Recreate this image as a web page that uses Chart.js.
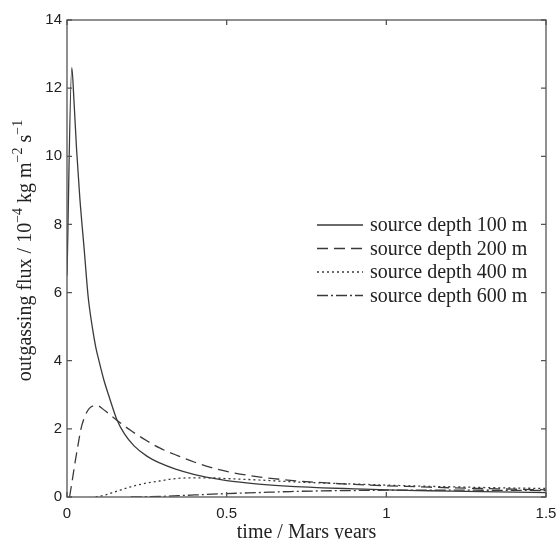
<!DOCTYPE html>
<html>
<head>
<meta charset="utf-8">
<script src="https://cdn.jsdelivr.net/npm/chart.js@4.4.1/dist/chart.umd.min.js"></script>
<style>
  body { margin: 0; background: #fff; }
  canvas { display: block; }
</style>
</head>
<body>
<canvas id="fluxChart" width="559" height="539"></canvas>
<script>
// values (time in Mars years, flux in 1e-4 kg m^-2 s^-1)
const labels = ['source depth 100 m', 'source depth 200 m', 'source depth 400 m', 'source depth 600 m'];

const t100 = [0, 0.015, 0.022, 0.03, 0.04, 0.054, 0.066, 0.079, 0.09, 0.1, 0.115, 0.13, 0.155, 0.18, 0.21, 0.25, 0.29, 0.34, 0.4, 0.45, 0.5, 0.6, 0.7, 0.8, 0.9, 1.0, 1.1, 1.2, 1.35, 1.5];
const flux100 = [6.5, 12.6, 11.6, 10.2, 8.8, 7.25, 5.9, 5.0, 4.4, 4.0, 3.45, 3.0, 2.3, 1.85, 1.5, 1.2, 1.0, 0.82, 0.66, 0.56, 0.48, 0.38, 0.31, 0.27, 0.24, 0.21, 0.19, 0.17, 0.15, 0.13];

const t200 = [0.008, 0.015, 0.025, 0.035, 0.043, 0.055, 0.07, 0.085, 0.095, 0.11, 0.13, 0.155, 0.2, 0.25, 0.29, 0.35, 0.4, 0.45, 0.5, 0.6, 0.7, 0.8, 0.9, 1.0, 1.1, 1.2, 1.35, 1.5];
const flux200 = [0, 0.4, 1.0, 1.55, 1.97, 2.35, 2.6, 2.68, 2.68, 2.6, 2.45, 2.26, 1.95, 1.65, 1.44, 1.2, 1.02, 0.87, 0.75, 0.59, 0.49, 0.42, 0.37, 0.33, 0.3, 0.27, 0.24, 0.21];

const t400 = [0.09, 0.12, 0.15, 0.2, 0.25, 0.29, 0.33, 0.38, 0.45, 0.5, 0.6, 0.7, 0.8, 0.9, 1.0, 1.1, 1.2, 1.35, 1.5];
const flux400 = [0, 0.06, 0.15, 0.3, 0.41, 0.47, 0.53, 0.56, 0.56, 0.54, 0.5, 0.45, 0.41, 0.38, 0.35, 0.32, 0.3, 0.27, 0.25];

const t600 = [0.2, 0.3, 0.35, 0.4, 0.5, 0.6, 0.7, 0.8, 0.9, 1.0, 1.2, 1.5];
const flux600 = [0, 0.02, 0.04, 0.06, 0.1, 0.13, 0.16, 0.18, 0.19, 0.2, 0.2, 0.19];

const xTicks = [0, 0.5, 1, 1.5];
const yTicks = [0, 2, 4, 6, 8, 10, 12, 14];

const ink = '#3a3a3a';
const serif = '"Liberation Serif", "Times New Roman", serif';

function toPoints(ts, ys) {
	return ts.map((t, i) => ({x: t, y: ys[i]}));
}

const dashes = [[], [11, 6], [2, 3], [11, 3, 2, 3]];
const series = [[t100, flux100], [t200, flux200], [t400, flux400], [t600, flux600]];

const datasets = series.map((s, i) => ({
	label: labels[i],
	data: toPoints(s[0], s[1]),
	borderColor: ink,
	borderWidth: 1.3,
	borderDash: dashes[i],
	pointRadius: 0,
	fill: false,
	cubicInterpolationMode: 'monotone'
}));

// box round the plot with inward ticks on all four sides
const framePlugin = {
	id: 'frame',
	afterDraw(chart) {
		const {ctx, chartArea: a, scales} = chart;
		ctx.save();
		ctx.strokeStyle = '#555';
		ctx.lineWidth = 1.3;
		ctx.strokeRect(a.left, a.top, a.right - a.left, a.bottom - a.top);
		ctx.beginPath();
		xTicks.forEach(v => {
			const px = scales.x.getPixelForValue(v);
			ctx.moveTo(px, a.bottom); ctx.lineTo(px, a.bottom - 5);
			ctx.moveTo(px, a.top); ctx.lineTo(px, a.top + 5);
		});
		yTicks.forEach(v => {
			const py = scales.y.getPixelForValue(v);
			ctx.moveTo(a.left, py); ctx.lineTo(a.left + 5, py);
			ctx.moveTo(a.right, py); ctx.lineTo(a.right - 5, py);
		});
		ctx.stroke();
		ctx.restore();
	}
};

// legend inside the plot, no box
const legendPlugin = {
	id: 'insideLegend',
	afterDraw(chart) {
		const {ctx, chartArea: a} = chart;
		ctx.save();
		ctx.font = '20px ' + serif;
		ctx.textBaseline = 'middle';
		ctx.fillStyle = '#222';
		chart.data.datasets.forEach((ds, i) => {
			const y = a.top + 205 + i * 23.5;
			const x0 = a.right - 229;
			ctx.strokeStyle = ds.borderColor;
			ctx.lineWidth = ds.borderWidth;
			ctx.setLineDash(ds.borderDash);
			ctx.beginPath();
			ctx.moveTo(x0, y);
			ctx.lineTo(x0 + 46, y);
			ctx.stroke();
			ctx.setLineDash([]);
			ctx.fillText(ds.label, x0 + 53, y + 1);
		});
		ctx.restore();
	}
};

// axis titles, the y one has superscripts
const titlePlugin = {
	id: 'axisTitles',
	afterDraw(chart) {
		const {ctx, chartArea: a} = chart;
		ctx.save();
		ctx.fillStyle = '#222';
		ctx.font = '20px ' + serif;
		ctx.textAlign = 'center';
		ctx.textBaseline = 'alphabetic';
		ctx.fillText('time / Mars years', (a.left + a.right) / 2, 538);

		const parts = [
			['outgassing flux / 10', false], ['\u22124', true], [' kg m', false],
			['\u22122', true], [' s', false], ['\u22121', true]
		];
		const big = '20px ' + serif, small = '14px ' + serif;
		let total = 0;
		parts.forEach(p => { ctx.font = p[1] ? small : big; total += ctx.measureText(p[0]).width; });
		ctx.translate(31, (a.top + a.bottom) / 2 - 8);
		ctx.rotate(-Math.PI / 2);
		ctx.textAlign = 'left';
		let x = -total / 2;
		parts.forEach(p => {
			ctx.font = p[1] ? small : big;
			ctx.fillText(p[0], x, p[1] ? -9 : 0);
			x += ctx.measureText(p[0]).width;
		});
		ctx.restore();
	}
};

new Chart(document.getElementById('fluxChart'), {
	type: 'line',
	data: { datasets },
	options: {
		responsive: false,
		animation: false,
		events: [],
		layout: { padding: { top: 20, right: 13, left: 0, bottom: 0 } },
		plugins: {
			legend: { display: false },
			tooltip: { enabled: false }
		},
		scales: {
			x: {
				type: 'linear',
				min: 0,
				max: 1.5,
				afterBuildTicks: s => { s.ticks = xTicks.map(v => ({value: v})); },
				afterFit: s => { s.height = 42; s.paddingLeft = 0; s.paddingRight = 0; },
				grid: { display: false, drawTicks: false },
				border: { display: false },
				ticks: {
					padding: 8,
					color: '#222',
					maxRotation: 0,
					font: { family: '"Liberation Sans", Arial, sans-serif', size: 15 },
					callback: v => String(v)
				}
			},
			y: {
				type: 'linear',
				min: 0,
				max: 14,
				afterBuildTicks: s => { s.ticks = yTicks.map(v => ({value: v})); },
				afterFit: s => { s.width = 67; },
				grid: { display: false, drawTicks: false },
				border: { display: false },
				ticks: {
					padding: 5,
					color: '#222',
					font: { family: '"Liberation Sans", Arial, sans-serif', size: 15 },
					callback: v => String(v)
				}
			}
		}
	},
	plugins: [framePlugin, legendPlugin, titlePlugin]
});
</script>
</body>
</html>
